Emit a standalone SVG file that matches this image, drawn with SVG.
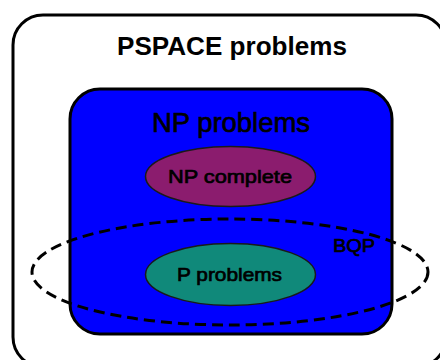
<svg xmlns="http://www.w3.org/2000/svg" width="440" height="360" viewBox="0 0 440 360">
  <style>
    .box { stroke: #000; stroke-width: 3; }
    .set { stroke: #1a1a1a; stroke-width: 1.5; }
    .lbl { font-family: "Liberation Sans", Arial, sans-serif; fill: #000; text-anchor: middle; }
    .heavy { stroke: #000; stroke-width: 0.7; }
    .dash { fill: none; stroke: #000; stroke-width: 3; stroke-dasharray: 11 6; }
  </style>
  <rect x="0" y="0" width="440" height="360" fill="#fff"/>

  <g id="pspace">
    <rect class="box" x="13" y="15" width="433" height="352" rx="30" ry="30" fill="#fff"/>
    <text class="lbl" x="232" y="55" font-size="26" font-weight="bold" textLength="230" lengthAdjust="spacingAndGlyphs">PSPACE problems</text>
  </g>

  <g id="np">
    <rect class="box" x="70" y="89" width="322" height="245" rx="30" ry="30" fill="#0000ff"/>
    <text class="lbl heavy" x="231" y="132" font-size="28" textLength="158" lengthAdjust="spacingAndGlyphs">NP problems</text>
  </g>

  <g id="np-complete">
    <ellipse class="set" cx="230.5" cy="176.5" rx="85" ry="30" fill="#8b1c6e"/>
    <text class="lbl heavy" x="230" y="183" font-size="19" textLength="124" lengthAdjust="spacingAndGlyphs">NP complete</text>
  </g>

  <g id="p">
    <ellipse class="set" cx="230.5" cy="274.5" rx="85" ry="31" fill="#10897a"/>
    <text class="lbl heavy" x="229.5" y="281" font-size="19" textLength="105" lengthAdjust="spacingAndGlyphs">P problems</text>
  </g>

  <g id="bqp">
    <ellipse class="dash" cx="230" cy="272" rx="198" ry="53"/>
    <text class="lbl heavy" x="354" y="252" font-size="18" textLength="42" lengthAdjust="spacingAndGlyphs">BQP</text>
  </g>
</svg>
